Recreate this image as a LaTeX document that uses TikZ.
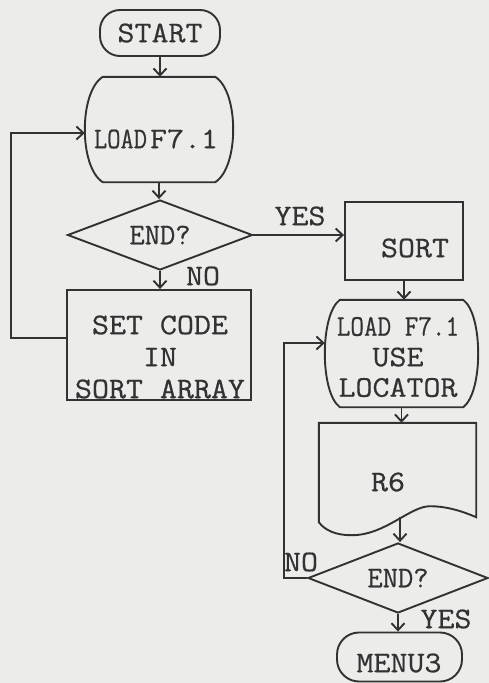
\documentclass[tikz,border=0pt]{standalone}
\usepackage{fontspec}
\usepackage{graphicx}
\setmonofont{Latin Modern Mono}[FakeStretch=1.1, FakeBold=0.6]
\usetikzlibrary{arrows.meta,calc,shapes.geometric}
\definecolor{ink}{RGB}{50,50,50}
\definecolor{paper}{RGB}{236,236,234}
\begin{document}
\begin{tikzpicture}[x=1pt,y=-1pt,
  every node/.style={font=\fontsize{30}{32}\selectfont\ttfamily, text=ink, inner sep=0pt},
  line/.style={draw=ink, line width=1.9pt},
  arr/.style={line, -{Straight Barb[length=7pt,width=13pt]}},
  dec/.style={diamond, line, shape aspect=2.6}]
\fill[paper] (0,0) rectangle (489,683);
\useasboundingbox (0,0) rectangle (489,683);

% left column
\node[line, rounded corners=20pt, minimum width=120pt, minimum height=46pt] (start) at (160,33) {START};

\node[minimum width=148pt, minimum height=105pt] (load1) at (159,129.5) {};
\draw[line] ($(load1.north west)+(18,0)$) -- ($(load1.north east)+(-18,0)$)
  .. controls ($(load1.north east)+(6,15)$) and ($(load1.south east)+(6,-15)$) .. ($(load1.south east)+(-18,0)$)
  -- ($(load1.south west)+(18,0)$)
  .. controls ($(load1.south west)+(-6,-15)$) and ($(load1.north west)+(-6,15)$) .. cycle;
\node (load1t) at (156,139) {\scalebox{0.78}[1]{LOAD}\hspace{3pt}F7.1};

\node[dec, minimum width=185pt, minimum height=70pt] (end1) at (160,235) {\scalebox{0.9}[1]{END?}};
\node (no1) at (203,276) {NO};

\node[line, minimum width=184pt, minimum height=110pt] (setc) at (159,345) {};
\node[align=center] (setct) at (160,357) {SET CODE\\IN\\SORT ARRAY};

% right column
\node[line, minimum width=118pt, minimum height=78pt] (sort) at (404,241) {};
\node (sortt) at (415,248) {SORT};
\node (yes1) at (300,216) {YES};

\node[minimum width=153pt, minimum height=107pt] (load2) at (401.5,353.5) {};
\draw[line] ($(load2.north west)+(15,0)$) -- ($(load2.north east)+(-15,0)$)
  .. controls ($(load2.north east)+(5,15)$) and ($(load2.south east)+(5,-15)$) .. ($(load2.south east)+(-15,0)$)
  -- ($(load2.south west)+(15,0)$)
  .. controls ($(load2.south west)+(-5,-15)$) and ($(load2.north west)+(-5,15)$) .. cycle;
\node[align=center, font=\fontsize{30}{30.5}\selectfont\ttfamily] (load2t) at (398,357) {\scalebox{0.8}[1]{LOAD F7.1}\\USE\\LOCATOR};

\node[minimum width=157pt, minimum height=97pt] (r6) at (397.5,471.5) {};
\draw[line] ($(r6.south west)+(0,2)$) -- (r6.north west) -- (r6.north east) -- ($(r6.south east)+(0,-3)$)
  .. controls ($(r6.south)+(62.5,-10)$) and ($(r6.south)+(47.5,-14)$) .. ($(r6.south)+(32.5,-14)$)
  .. controls ($(r6.south)+(12.5,-14)$) and ($(r6.south)+(-12.5,15)$) .. ($(r6.south)+(-45.5,15)$)
  .. controls ($(r6.south)+(-62.5,15)$) and ($(r6.south)+(-72.5,10)$) .. cycle;
\node (r6t) at (388,482) {R6};
\coordinate (r6w) at ($(r6.south)+(2.5,-3)$);

\node[dec, minimum width=180pt, minimum height=70pt] (end2) at (398,578) {\scalebox{0.9}[1]{END?}};
\node (no2) at (301,562) {NO};
\node (yes2) at (446,619) {YES};

\node[line, rounded corners=22pt, minimum width=125pt, minimum height=49pt] (menu) at (399.5,657) {};
\node (menut) at (399,663) {MENU3};

% connectors
\coordinate (c1) at (11,338);
\coordinate (c2) at (11,133);
\coordinate (c4) at (284,343);
\draw[arr] (start.south) -- (start.south |- load1.north);
\draw[arr] (load1.south) -- (load1.south |- end1.north);
\draw[arr] (end1.south) -- (end1.south |- setc.north);
\draw[arr] (setc.west |- c1) -- (c1) -- (c2) -- (load1.west |- c2);
\draw[arr] (end1.east) -- (sort.west |- end1.east);
\draw[arr] (sort.south) -- (sort.south |- load2.north);
\draw[arr] (load2.south) -- (load2.south |- r6.north);
\draw[arr] (r6w) -- (r6w |- end2.north);
\draw[arr] (end2.west) -- (end2.west -| c4) -- (c4) -- (load2.west |- c4);
\draw[arr] (end2.south) -- (end2.south |- menu.north);
\end{tikzpicture}
\end{document}
